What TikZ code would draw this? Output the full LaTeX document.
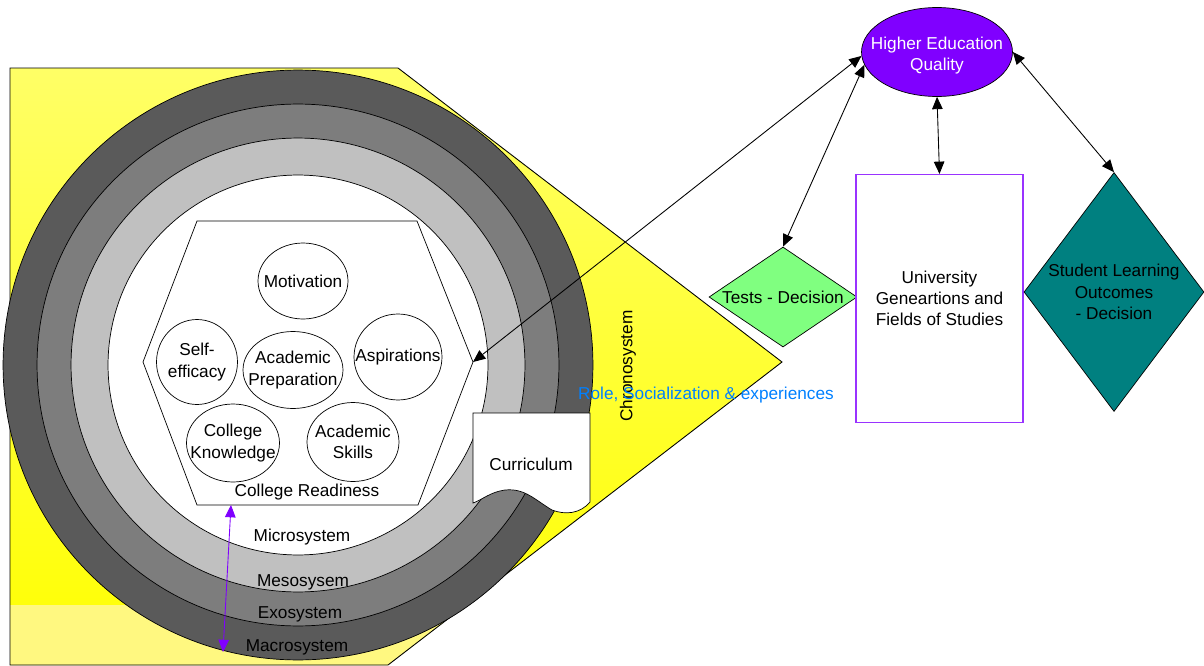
\documentclass[tikz,border=0pt]{standalone}
\usepackage{fontspec}
\setmainfont{Liberation Sans}
\usetikzlibrary{positioning,calc,shapes.geometric,arrows.meta}
\definecolor{hqpurple}{HTML}{8000FF}
\definecolor{unipurple}{HTML}{9933FF}
\definecolor{testgreen}{HTML}{80FF80}
\definecolor{sloteal}{HTML}{008080}
\definecolor{roleblue}{HTML}{0080FF}
\definecolor{ringdark}{HTML}{5A5A5A}
\definecolor{ringmid}{HTML}{7D7D7D}
\definecolor{ringlight}{HTML}{C0C0C0}

\begin{document}
\begin{tikzpicture}[
            x=0.02cm, y=-0.02cm,
            font=\fontsize{9.8}{12.1}\selectfont,
            >={Triangle[length=7pt,width=6pt]},
            bubble/.style={draw, ellipse, fill=white, inner sep=0pt},
            dia/.style={draw, diamond, inner sep=0pt},
            lbl/.style={align=center},
            link/.style={<->, line width=0.5pt}
        ]
        \useasboundingbox (0,0) rectangle (1204,666);

        % chronosystem background
        \shade[top color=yellow!60, bottom color=yellow] (10,68) -- (398,68) -- (782,362) -- (388,665) -- (10,665) -- cycle;
        \begin{scope}
            \clip (10,68) -- (398,68) -- (782,362) -- (388,665) -- (10,665) -- cycle;
            \fill[yellow!50] (10,605) rectangle (800,666);
        \end{scope}
        \draw[line width=0.5pt] (10,68) -- (398,68) -- (782,362) -- (388,665) -- (10,665) -- cycle;

        % rings
        \coordinate (O) at (298,365);
        \draw[fill=ringdark] (O) circle (5.9cm);
        \draw[fill=ringmid] (O) circle (5.22cm);
        \draw[fill=ringlight] (O) circle (4.54cm);
        \draw[fill=white] (O) circle (3.8cm);

        \draw[fill=white] (473,413) -- (590,413) -- (590,502)
            .. controls (580,514) and (565,515) .. (552,510)
            .. controls (535,500) and (525,488) .. (505,490)
            .. controls (490,492) and (482,500) .. (473,503) -- cycle;
        \node (cur) at (531,464) {Curriculum};

        % college readiness
        \coordinate (hexR) at (473,362);
        \coordinate (crTop) at (231,505);
        \draw[fill=white] (197,221) -- (417,221) -- (hexR) -- (418,505) -- (197,505) -- (143,362) -- cycle;
        \node (cr) at (307,492) {College Readiness};

        \node[bubble, minimum width=1.80cm, minimum height=1.52cm, label={[lbl]center:Motivation}] (mot) at (303,281) {};
        \node[bubble, minimum width=1.62cm, minimum height=1.70cm, label={[lbl]center:{Self-\\efficacy}}] (self) at (197,362) {};
        \node[bubble, minimum width=2.00cm, minimum height=1.54cm, label={[lbl]center:{Academic\\Preparation}}] (prep) at (293,370) {};
        \node[bubble, minimum width=1.76cm, minimum height=1.72cm, label={[lbl]center:Aspirations}] (asp) at (398,357) {};
        \node[bubble, minimum width=1.86cm, minimum height=1.56cm, label={[lbl]center:{College\\Knowledge}}] (know) at (233,443) {};
        \node[bubble, minimum width=1.84cm, minimum height=1.58cm, label={[lbl]center:{Academic\\Skills}}] (skills) at (353,442) {};

        \node (micro) at (302,537) {Microsystem};
        \node (meso) at (303,582) {Mesosysem};
        \node (exo) at (300,614) {Exosystem};
        \node (macro) at (297,647) {Macrosystem};
        \coordinate (macroEnd) at (223,652);
        \node[rotate=90] (chrono) at (628,366) {Chronosystem};
        \node[text=roleblue] (role) at (706,395) {Role, Socialization \& experiences};

        % outcomes
        \node[draw, ellipse, fill=hqpurple, inner sep=0pt, minimum width=3.02cm, minimum height=1.78cm,
              label={[lbl, text=white, yshift=-2pt]center:{Higher Education\\Quality}}] (hq) at (937,52) {};
        \node[dia, fill=testgreen, minimum width=2.96cm, minimum height=2.0cm,
              label={[lbl]center:Tests - Decision}] (tests) at (783,297) {};
        \node[draw=unipurple, fill=white, line width=0.7pt, minimum width=3.34cm, minimum height=4.96cm,
              align=center] (uni) at (939.5,298.5) {University\\Geneartions and\\Fields of Studies};
        \node[dia, fill=sloteal, minimum width=3.6cm, minimum height=4.78cm,
              label={[lbl]center:{Student Learning\\Outcomes\\- Decision}}] (slo) at (1114,292) {};

        \draw[link] (hq.183) -- (hexR);
        \draw[link] (hq.190) -- (tests.north);
        \draw[link] (hq.south) -- (uni.north);
        \draw[link] (hq.east) -- (slo.north);
        \draw[link, hqpurple] (crTop) -- (macroEnd);
    \end{tikzpicture}
\end{document}
